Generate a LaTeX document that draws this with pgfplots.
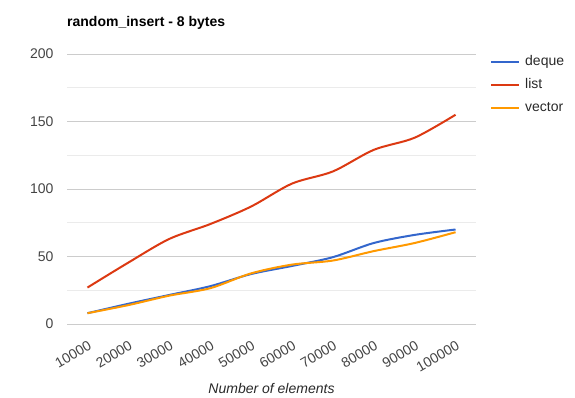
\documentclass[border=0pt]{standalone}
\usepackage{fontspec}
\setmainfont{Liberation Sans}
\usepackage{pgfplots}
\pgfplotsset{compat=1.18}
\definecolor{cdeque}{HTML}{3366CC}
\definecolor{clist}{HTML}{DC3912}
\definecolor{cvector}{HTML}{FF9900}
\definecolor{ticktext}{HTML}{444444}
\definecolor{majgrid}{HTML}{CCCCCC}
\definecolor{mingrid}{HTML}{EBEBEB}
\definecolor{baseline}{HTML}{333333}
\pgfplotstableread{
x deque list vector
0 8 27 8
1 15 45.5 14
2 21.5 63 21
3 28 74 26.5
4 37 87 37.5
5 43 104 44
6 49.5 113 47
7 60 129 54
8 66 138 60
9 70 155 68
}\datatable
\begin{document}
\begin{tikzpicture}[x=1pt,y=1pt]
\path[use as bounding box] (0,0) rectangle (575,397);
\begin{axis}[
  at={(67pt,73pt)}, anchor=south west,
  width=409pt, height=270pt, scale only axis,
  xmin=-0.5, xmax=9.5, ymin=0, ymax=200,
  xtick={0,...,9},
  xticklabels={10000,20000,30000,40000,50000,60000,70000,80000,90000,100000},
  ytick={0,50,100,150,200},
  minor ytick={25,75,125,175},
  ymajorgrids, yminorgrids,
  major grid style={majgrid, line width=1pt},
  minor grid style={mingrid, line width=1pt},
  extra y ticks={0}, extra y tick labels={},
  extra y tick style={grid style={baseline, line width=1.3pt}},
  axis line style={draw=none},
  major tick length=0pt, minor tick length=0pt,
  /pgf/number format/assume math mode=true,
  tick label style={font=\fontsize{14}{16}\selectfont, text=ticktext},
  yticklabel style={xshift=-10pt},
  xticklabel style={rotate=30, anchor=north east, inner sep=0pt, yshift=-14pt, xshift=-8pt},
  xlabel={Number of elements},
  xlabel style={at={(axis description cs:0.5,0)}, anchor=center, yshift=-64pt,
    font=\fontsize{14}{16}\selectfont\itshape, text=ticktext!60!black},
  legend style={at={(1,1)}, anchor=north west, xshift=14pt, yshift=-1pt, draw=none, fill=none,
    inner sep=0pt, row sep=9pt, column sep=5pt,
    nodes={inner sep=0pt, text height=10.5pt, text depth=3.5pt},
    font=\fontsize{14}{16}\selectfont, text=ticktext!60!black},
  legend cell align=left,
  legend image code/.code={\draw[#1, line width=2pt] (0pt,0pt) -- (28pt,0pt);},
  every axis plot/.append style={line width=2pt, smooth, tension=0.5},
  clip=false,
]
\addplot[cdeque] table[x=x, y=deque] {\datatable};
\addlegendentry{deque}
\addplot[clist] table[x=x, y=list] {\datatable};
\addlegendentry{list}
\addplot[cvector] table[x=x, y=vector] {\datatable};
\addlegendentry{vector}
\end{axis}
\node[anchor=west, inner sep=0pt, font=\fontsize{14}{16}\selectfont\bfseries] at (67,374) {random\_insert - 8 bytes};
\end{tikzpicture}
\end{document}
